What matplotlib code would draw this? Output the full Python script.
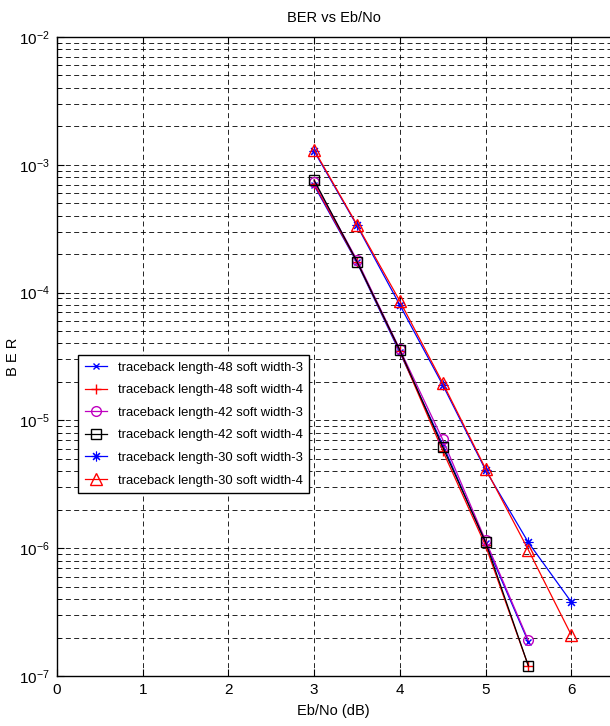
import matplotlib.pyplot as plt
from matplotlib.ticker import LogLocator, FixedLocator, NullFormatter

plt.rcParams['font.family'] = ['Liberation Sans', 'DejaVu Sans']
plt.rcParams['mathtext.fontset'] = 'custom'
plt.rcParams['mathtext.rm'] = 'Liberation Sans'

eb = [3, 3.5, 4, 4.5, 5, 5.5, 6]
ber_48_3 = [6.9e-4, 1.72e-4, 3.4e-5, 6.5e-6, 1.1e-6, 1.85e-7]
ber_48_4 = [7.1e-4, 1.75e-4, 3.5e-5, 5.8e-6, 1.05e-6, 1.2e-7]
ber_42_3 = [7.4e-4, 1.8e-4, 3.6e-5, 7.1e-6, 1.15e-6, 1.9e-7]
ber_42_4 = [7.6e-4, 1.75e-4, 3.55e-5, 6.2e-6, 1.12e-6, 1.2e-7]
ber_30_3 = [1.28e-3, 3.35e-4, 8.0e-5, 1.9e-5, 4.1e-6, 1.11e-6, 3.8e-7]
ber_30_4 = [1.31e-3, 3.4e-4, 8.6e-5, 1.97e-5, 4.2e-6, 9.7e-7, 2.1e-7]

labels = ['traceback length-48 soft width-3', 'traceback length-48 soft width-4',
          'traceback length-42 soft width-3', 'traceback length-42 soft width-4',
          'traceback length-30 soft width-3', 'traceback length-30 soft width-4']

fig = plt.figure(figsize=(6.1, 7.26), dpi=100)
ax = fig.add_axes([57/610, 50/726, 553/610, 639/726])

lw = 0.9
ax.semilogy(eb[:6], ber_48_3, color='b', marker='x', ms=4, lw=lw, label=labels[0])
ax.semilogy(eb[:6], ber_48_4, color='r', marker='+', ms=7, lw=lw, label=labels[1])
ax.semilogy(eb[:6], ber_42_3, color='m', marker='o', ms=7, mfc='none', lw=lw, label=labels[2])
ax.semilogy(eb[:6], ber_42_4, color='k', marker='s', ms=7, mfc='none', lw=lw, label=labels[3])
ax.semilogy(eb, ber_30_3, color='b', marker=(8, 2, 0), ms=7, mew=0.8, lw=lw, label=labels[4])
ax.semilogy(eb, ber_30_4, color='r', marker='^', ms=8, mfc='none', lw=lw, label=labels[5])

ax.set_xlim(0, 553/85.7)
ax.set_ylim(1e-7, 1e-2)
ax.xaxis.set_major_locator(FixedLocator([0, 1, 2, 3, 4, 5, 6]))
ax.yaxis.set_major_locator(LogLocator(base=10, numticks=10))
ax.yaxis.set_minor_locator(LogLocator(base=10, subs=range(2, 10), numticks=20))
ax.yaxis.set_minor_formatter(NullFormatter())

ax.grid(True, which='major', axis='x', color='k', ls=(0, (6, 4)), lw=0.6)
ax.grid(True, which='both', axis='y', color='k', ls=(0, (6, 4)), lw=0.6)
ax.set_axisbelow(True)

ax.tick_params(which='both', direction='in', top=True, right=False, labelsize=11)
ax.tick_params(which='major', length=5, pad=5)
ax.tick_params(which='minor', length=3)
ax.spines['right'].set_visible(False)
for s in ['left', 'bottom', 'top']:
    ax.spines[s].set_linewidth(1.0)

ax.set_title('BER vs Eb/No', fontsize=10.5, pad=11)
ax.set_xlabel('Eb/No (dB)', fontsize=10.5, labelpad=5)
ax.set_ylabel('B E R', fontsize=10.5)
ax.yaxis.set_label_coords(-(57 - 20) / 553, 0.5)

leg = ax.legend(loc='upper left', bbox_to_anchor=(78/610, 1 - 355/726),
                bbox_transform=fig.transFigure, fontsize=9.4, fancybox=False,
                edgecolor='k', framealpha=1, handlelength=1.75, handletextpad=0.8,
                borderpad=0.5, labelspacing=0.8, borderaxespad=0)
leg.get_frame().set_linewidth(1.0)

plt.savefig('out.png', dpi=100)
